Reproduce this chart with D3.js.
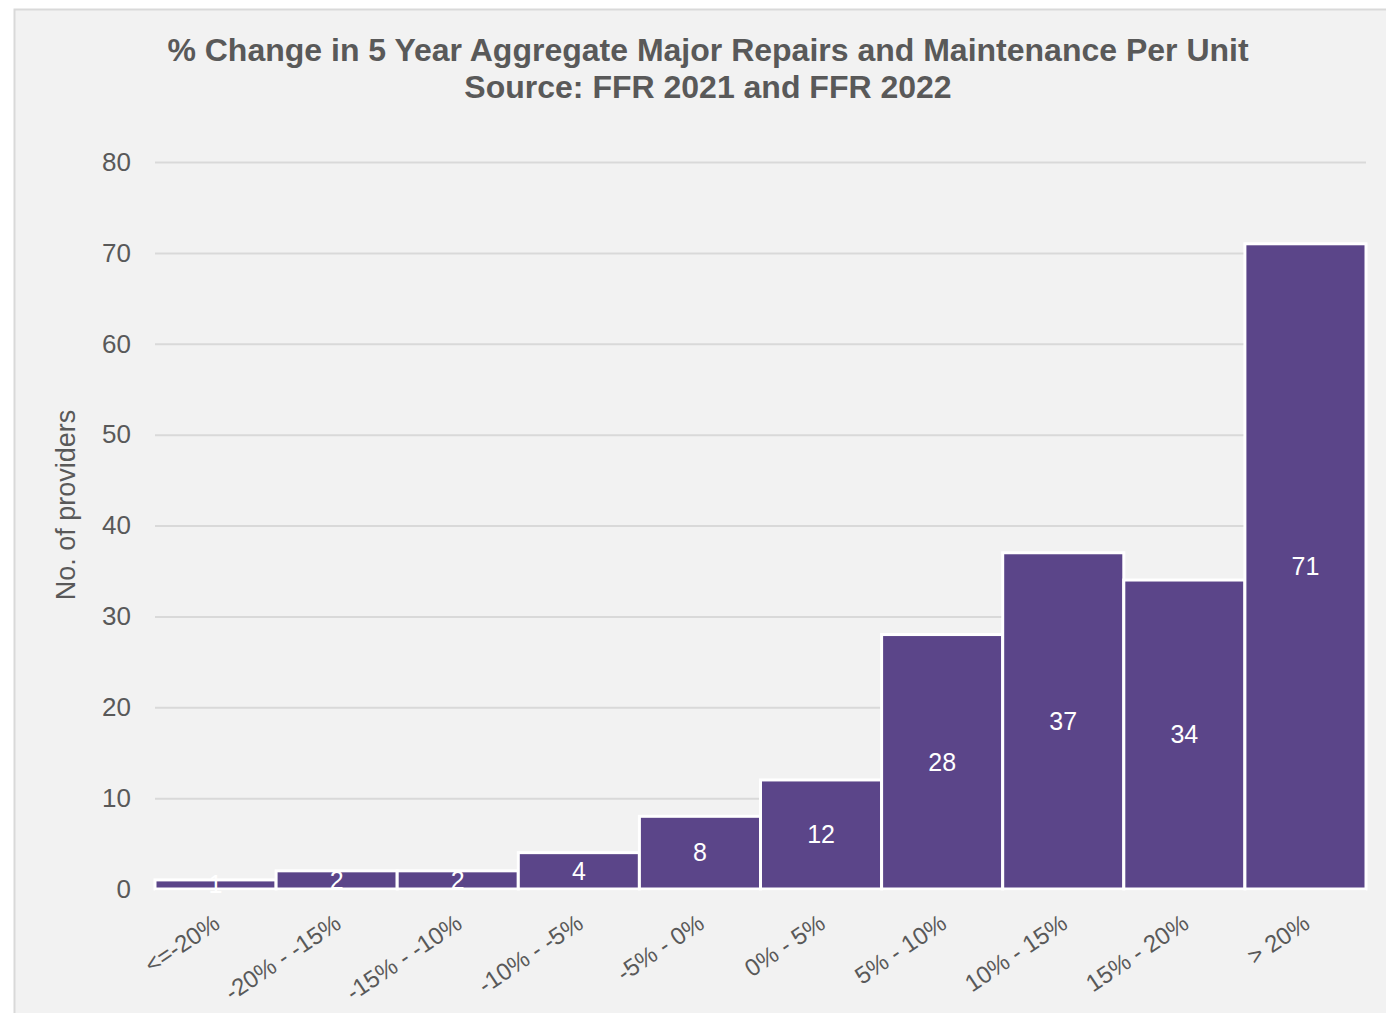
<!DOCTYPE html>
<html>
<head>
<meta charset="utf-8">
<script src="https://cdn.jsdelivr.net/npm/d3@7"></script>
<style>
  html, body { margin: 0; padding: 0; background: #ffffff; }
  svg { display: block; font-family: "Liberation Sans", Arial, sans-serif; }
</style>
</head>
<body>
<svg id="chart" width="1386" height="1013"></svg>
<script>
// Histogram buckets: % change in 5-year aggregate major repairs & maintenance per unit
const categories = ["<=-20%", "-20% - -15%", "-15% - -10%", "-10% - -5%", "-5% - 0%",
                    "0% - 5%", "5% - 10%", "10% - 15%", "15% - 20%", "> 20%"];
const providers = [1, 2, 2, 4, 8, 12, 28, 37, 34, 71];
const yTicks = [0, 10, 20, 30, 40, 50, 60, 70, 80];
const titleLines = ["% Change in 5 Year Aggregate Major Repairs and Maintenance Per Unit",
                    "Source: FFR 2021 and FFR 2022"];
const yAxisTitle = "No. of providers";

const svg = d3.select("#chart");
const W = 1386, H = 1013;
const plot = { left: 155, right: 1366, top: 162, bottom: 889 };
const barColor = "#5b4589";
const textColor = "#595959";

// chart area background with thin border
svg.append("rect")
  .attr("x", 14.5).attr("y", 9.5)
  .attr("width", W + 10).attr("height", H + 10)
  .attr("fill", "#f2f2f2")
  .attr("stroke", "#d9d9d9").attr("stroke-width", 2);

// title
svg.append("text")
  .attr("text-anchor", "middle")
  .attr("fill", textColor)
  .attr("font-weight", "bold")
  .attr("font-size", 32)
  .selectAll("tspan").data(titleLines).join("tspan")
    .attr("x", 708)
    .attr("y", (d, i) => 61 + i * 37)
    .text(d => d);

const x = d3.scaleBand().domain(categories).range([plot.left, plot.right]).padding(0);
const y = d3.scaleLinear().domain([0, 80]).range([plot.bottom, plot.top]);

// horizontal gridlines
svg.append("g")
  .attr("transform", `translate(${plot.left},0)`)
  .call(d3.axisLeft(y).tickValues(yTicks).tickSize(-(plot.right - plot.left)).tickFormat(""))
  .call(g => g.select(".domain").remove())
  .call(g => g.selectAll("line").attr("stroke", "#d9d9d9").attr("stroke-width", 2));

// y tick labels
svg.append("g")
  .attr("transform", `translate(${plot.left},0)`)
  .call(d3.axisLeft(y).tickValues(yTicks).tickSize(0).tickPadding(24))
  .call(g => g.select(".domain").remove())
  .call(g => g.selectAll("text")
    .attr("fill", textColor)
    .attr("font-size", 26)
    .attr("font-family", "Liberation Sans, Arial, sans-serif"));

// y axis title
svg.append("text")
  .attr("transform", `translate(75,505) rotate(-90)`)
  .attr("text-anchor", "middle")
  .attr("fill", textColor)
  .attr("font-size", 27)
  .text(yAxisTitle);

// bars
const data = categories.map((c, i) => ({ c, v: providers[i] }));
svg.append("g").selectAll("rect").data(data).join("rect")
  .attr("x", d => x(d.c))
  .attr("y", d => y(d.v))
  .attr("width", x.bandwidth())
  .attr("height", d => y(0) - y(d.v))
  .attr("fill", barColor)
  .attr("stroke", "#ffffff")
  .attr("stroke-width", 3);

// value labels at bar mid-height
svg.append("g").selectAll("text").data(data).join("text")
  .attr("x", d => x(d.c) + x.bandwidth() / 2)
  .attr("y", d => (y(d.v) + y(0)) / 2)
  .attr("dy", "0.35em")
  .attr("text-anchor", "middle")
  .attr("fill", "#ffffff")
  .attr("font-size", 25)
  .text(d => d.v);

// rotated category labels
svg.append("g")
  .attr("transform", `translate(0,${plot.bottom})`)
  .call(d3.axisBottom(x).tickSize(0).tickPadding(0))
  .call(g => g.select(".domain").remove())
  .call(g => g.selectAll("text")
    .attr("fill", textColor)
    .attr("font-size", 24)
    .attr("font-family", "Liberation Sans, Arial, sans-serif")
    .attr("text-anchor", "end")
    .attr("dy", 0)
    .attr("transform", "translate(6,38) rotate(-34)"));
</script>
</body>
</html>
